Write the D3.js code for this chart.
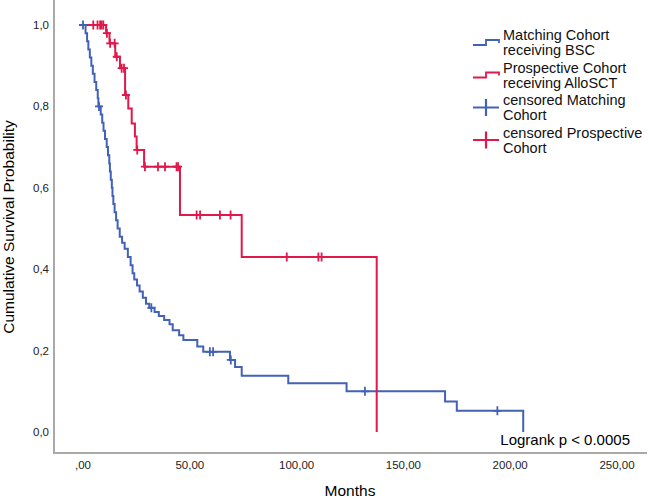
<!DOCTYPE html>
<html>
<head>
<meta charset="utf-8">
<script src="https://cdn.jsdelivr.net/npm/d3@7"></script>
<style>
  body { margin: 0; background: #fff; }
  svg { font-family: "Liberation Sans", Arial, sans-serif; }
</style>
</head>
<body>
<div id="chart"></div>
<script>
// Kaplan-Meier steps: [months, survival after the drop]
var bscSteps = [
  [0, 1], [1.2, 0.98], [1.9, 0.96], [2.5, 0.94], [3.2, 0.92], [3.9, 0.90], [4.6, 0.88],
  [5.4, 0.86], [6.2, 0.84], [6.9, 0.82], [7.2, 0.80], [8.3, 0.78], [9.0, 0.76], [9.6, 0.74],
  [10.3, 0.72], [11.1, 0.70], [11.7, 0.68], [12.3, 0.66], [12.6, 0.64], [13.0, 0.62],
  [13.5, 0.60], [13.8, 0.58], [14.2, 0.56], [14.8, 0.54], [15.5, 0.52], [16.2, 0.50],
  [17.2, 0.48], [18.3, 0.465], [19.5, 0.45], [21.0, 0.43], [22.3, 0.41], [23.2, 0.39],
  [24.0, 0.375], [25.3, 0.36], [26.5, 0.345], [28.0, 0.33], [29.5, 0.315], [31.0, 0.305],
  [33.5, 0.295], [35.5, 0.285], [38.0, 0.275], [40.5, 0.265], [42.0, 0.25], [45.0, 0.238],
  [47.0, 0.226], [53.5, 0.21], [56.3, 0.197], [68.8, 0.177], [71.2, 0.16], [74.3, 0.138],
  [96.1, 0.12], [123.4, 0.10], [169.5, 0.075], [175.0, 0.052], [206.1, 0]
];
var bscCensored = [0, 7.5, 32, 59.4, 60.9, 69.2, 132, 194];

var alloSteps = [
  [0, 1], [10.8, 0.98], [12.4, 0.955], [15.1, 0.922], [17.3, 0.894], [19.7, 0.828],
  [21.2, 0.795], [22.8, 0.758], [24.3, 0.726], [25.1, 0.693], [28.6, 0.652],
  [45.4, 0.533], [74.3, 0.43], [137.5, 0]
];
var alloCensored = [4.8, 6.8, 8.0, 8.7, 9.5, 11.2, 12.7, 14.8, 15.8, 18.1, 19.2, 20.1,
  25.4, 29.0, 35.1, 38.4, 43.8, 44.5, 53.2, 54.8, 64.1, 69.1, 95.4, 110.2, 111.7];

var xTicks = [0, 50, 100, 150, 200, 250];
var yTicks = [0, 0.2, 0.4, 0.6, 0.8, 1.0];

var legendItems = [
  { lines: ["Matching Cohort", "receiving BSC"], color: "#4262b6", type: "step" },
  { lines: ["Prospective Cohort", "receiving AlloSCT"], color: "#e0184b", type: "step" },
  { lines: ["censored Matching", "Cohort"], color: "#4262b6", type: "cross" },
  { lines: ["censored Prospective", "Cohort"], color: "#e0184b", type: "cross" }
];

var width = 649, height = 501;
var blue = "#4262b6", red = "#e0184b";

var svg = d3.select("#chart").append("svg")
    .attr("width", width)
    .attr("height", height);

var x = d3.scaleLinear().domain([0, 250]).range([83, 617]);
var y = d3.scaleLinear().domain([0, 1]).range([432, 25]);

// Axis frame (left + bottom only)
svg.append("path")
    .attr("d", "M54,0V453H647")
    .style("fill", "none")
    .style("stroke", "#a9a9a9")
    .style("stroke-width", 2);

var fmtX = function(d) { return d === 0 ? ",00" : d3.format(".2f")(d).replace(".", ","); };
var fmtY = function(d) { return d3.format(".1f")(d).replace(".", ","); };

svg.append("g").selectAll("text")
    .data(xTicks)
  .enter().append("text")
    .attr("x", function(d) { return x(d); })
    .attr("y", 469)
    .attr("text-anchor", "middle")
    .style("font-size", "11.5px")
    .style("fill", "#222")
    .text(fmtX);

svg.append("g").selectAll("text")
    .data(yTicks)
  .enter().append("text")
    .attr("x", 49)
    .attr("y", function(d) { return y(d) + 4; })
    .attr("text-anchor", "end")
    .style("font-size", "11.5px")
    .style("fill", "#222")
    .text(fmtY);

svg.append("text")
    .attr("x", 350)
    .attr("y", 496)
    .attr("text-anchor", "middle")
    .style("font-size", "15.5px")
    .text("Months");

svg.append("text")
    .attr("transform", "translate(14,227) rotate(-90)")
    .attr("text-anchor", "middle")
    .style("font-size", "15.5px")
    .text("Cumulative Survival Probability");

// Curves
var line = d3.line()
    .x(function(d) { return x(d[0]); })
    .y(function(d) { return y(d[1]); })
    .curve(d3.curveStepAfter);

function survivalAt(steps, t) {
  var s = steps[0][1];
  steps.forEach(function(d) { if (d[0] <= t) s = d[1]; });
  return s;
}

svg.append("path")
    .datum(bscSteps)
    .attr("d", line)
    .style("fill", "none")
    .style("stroke", blue)
    .style("stroke-width", 2);

svg.append("path")
    .datum(alloSteps)
    .attr("d", line)
    .style("fill", "none")
    .style("stroke", red)
    .style("stroke-width", 2);

function censorMarks(times, steps, color) {
  svg.append("g").selectAll("path")
      .data(times)
    .enter().append("path")
      .attr("d", function(t) {
        var cx = x(t), cy = y(survivalAt(steps, t));
        return "M" + (cx - 4) + "," + cy + "H" + (cx + 4) +
               "M" + cx + "," + (cy - 4.5) + "V" + (cy + 4.5);
      })
      .style("fill", "none")
      .style("stroke", color)
      .style("stroke-width", 1.8);
}

censorMarks(bscCensored, bscSteps, blue);
censorMarks(alloCensored, alloSteps, red);

svg.append("text")
    .attr("x", 630)
    .attr("y", 445)
    .attr("text-anchor", "end")
    .style("font-size", "15px")
    .text("Logrank p < 0.0005");

// Legend
var legend = svg.append("g")
    .attr("transform", "translate(473,35)");

var item = legend.selectAll(".item")
    .data(legendItems)
  .enter().append("g")
    .attr("class", "item")
    .attr("transform", function(d, i) { return "translate(0," + (i * 32.5) + ")"; });

item.append("path")
    .attr("d", function(d) {
      return d.type === "step" ?
          "M0,10H13V5H26V8" :
          "M0,7.5H26M13,-1V16";
    })
    .style("fill", "none")
    .style("stroke", function(d) { return d.color; })
    .style("stroke-width", function(d) { return d.type === "step" ? 1.8 : 2.2; });

item.selectAll("text")
    .data(function(d) { return d.lines; })
  .enter().append("text")
    .attr("x", 30)
    .attr("y", function(d, i) { return 5 + i * 15; })
    .style("font-size", "14.5px")
    .style("fill", "#111")
    .text(function(d) { return d; });
</script>
</body>
</html>
